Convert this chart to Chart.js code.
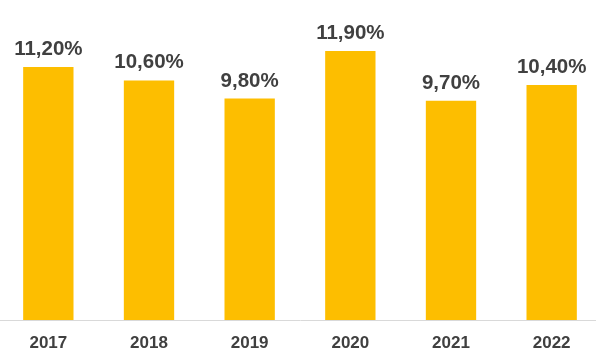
<!DOCTYPE html>
<html>
<head>
<meta charset="utf-8">
<script src="https://cdn.jsdelivr.net/npm/chart.js@4"></script>
<style>
  html, body { margin: 0; padding: 0; background: #fff; overflow: hidden; }
  #wrap { position: relative; width: 604px; height: 355px; margin-left: -2px; }
</style>
</head>
<body>
<div id="wrap"><canvas id="chart-bar"></canvas></div>
<script>
const years = ["2017", "2018", "2019", "2020", "2021", "2022"];
const rates = [11.2, 10.6, 9.8, 11.9, 9.7, 10.4];

const textColor = "#404040";
const barColor = "#FDBE00";

const fmt = (v) => v.toFixed(2).replace(".", ",") + "%";

// value labels above each bar
const valueLabels = {
  id: "valueLabels",
  afterDatasetsDraw(chart) {
    const ctx = chart.ctx;
    const meta = chart.getDatasetMeta(0);
    ctx.save();
    ctx.font = "bold 20.5px 'Liberation Sans', Arial, sans-serif";
    ctx.fillStyle = textColor;
    ctx.textAlign = "center";
    ctx.textBaseline = "alphabetic";
    meta.data.forEach((bar, i) => {
      ctx.fillText(fmt(rates[i]), bar.x, bar.y - 12);
    });
    ctx.restore();
  }
};

const line = document.getElementById("chart-bar");
new Chart(line, {
  type: "bar",
  data: {
    labels: years,
    datasets: [{
      data: rates,
      backgroundColor: barColor,
      borderWidth: 0,
      barPercentage: 0.5,
      categoryPercentage: 1.0
    }]
  },
  options: {
    responsive: true,
    maintainAspectRatio: false,
    animation: false,
    layout: { padding: { top: 3.6, left: 0, right: 0, bottom: 0 } },
    plugins: {
      legend: { display: false },
      tooltip: { enabled: false }
    },
    scales: {
      x: {
        grid: { display: false, drawTicks: false },
        border: { display: true, color: "#D9D9D9", width: 1 },
        ticks: {
          color: textColor,
          padding: 13,
          font: { family: "'Liberation Sans', Arial, sans-serif", size: 17, weight: "bold" }
        },
        afterFit: (s) => { s.height = 35; }
      },
      y: {
        display: false,
        min: 0,
        max: 14
      }
    }
  },
  plugins: [valueLabels]
});
</script>
</body>
</html>
